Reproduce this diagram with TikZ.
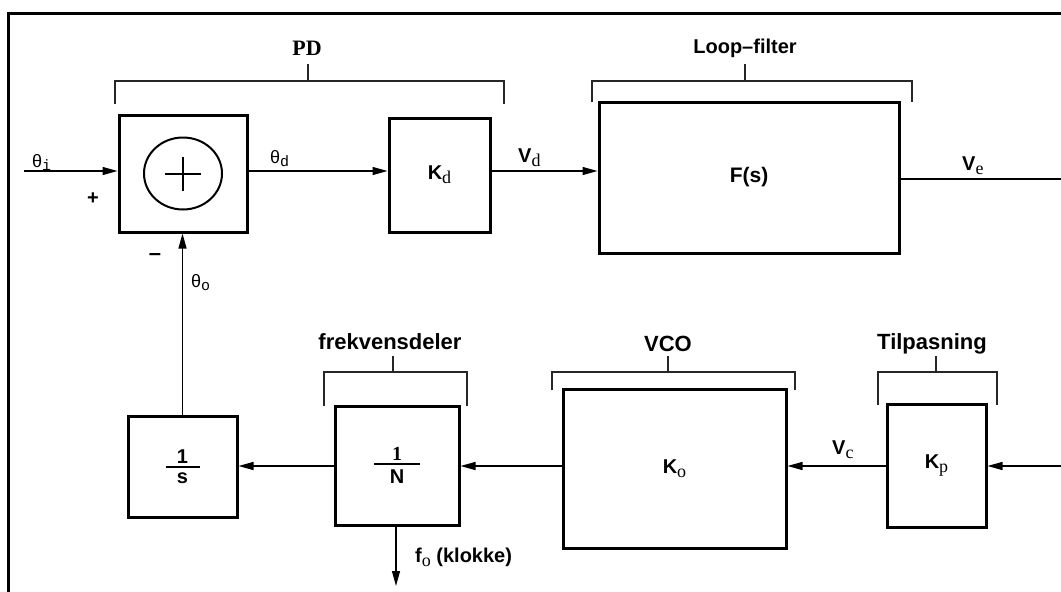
\documentclass[tikz,border=0pt]{standalone}
\usepackage{fontspec}
\setmainfont{Liberation Sans}
\newfontfamily\serif{Liberation Serif}
\newfontfamily\mono{Liberation Mono}
\usetikzlibrary{arrows.meta}
\newcommand\fsz[1]{\fontsize{#1}{#1}\selectfont}
\newcommand\subs[2][-4pt]{\raisebox{#1}{\serif\mdseries\fsz{18}#2}}
\newcommand\msub[1]{\raisebox{-3pt}{\mono\mdseries\fsz{15}#1}}
\newcommand\fracbox[3]{\vbox{\hbox to #1{\hss #2\hss}\kern3pt\hrule height 1.5pt\kern5pt\hbox to #1{\hss #3\hss}}}
\begin{document}
\begin{tikzpicture}[x=1pt,y=-1pt,
  blk/.style={draw, line width=3pt, inner sep=0pt, font=\fsz{20}\bfseries},
  con/.style={line width=1.3pt},
  arr/.style={con, -{Triangle[length=15pt,width=8pt]}},
  brk/.style={line width=1.2pt, black!85},
  ttl/.style={font=\fsz{22}\bfseries},
  lbl/.style={font=\fsz{20}\bfseries, inner sep=0pt}]
\useasboundingbox (0,0) rectangle (1061,592);
% frame
\draw[line width=3pt] (1061,13) -- (8,13) -- (8,594);

% blocks
\node[blk, minimum width=128pt, minimum height=117pt] (sum) at (183,173.5) {};
\draw[line width=2pt] (sum.center) ellipse [x radius=39, y radius=36];
\draw[line width=2pt] ([xshift=-18pt]sum.center) -- ([xshift=18pt]sum.center);
\draw[line width=2pt] ([yshift=-17pt]sum.center) -- ([yshift=17pt]sum.center);
\node[blk, minimum width=101pt, minimum height=114pt] (kd) at (439.5,175) {K\subs{d}};
\node[blk, minimum width=300pt, minimum height=151pt, font=\fsz{21}\bfseries] (fs) at (749,177.5) {F(s)};
\node[blk, minimum width=109pt, minimum height=101pt, font=\fsz{20}\bfseries] (inv) at (182.5,466.5) {\fracbox{34pt}{1}{s}};
\node[blk, minimum width=124pt, minimum height=119pt, font=\fsz{20}\bfseries] (div) at (397,465.5) {\fracbox{46pt}{{\serif 1}}{N}};
\node[blk, minimum width=223pt, minimum height=159pt] (vco) at (674.5,468.5) {K\subs{o}};
\node[blk, minimum width=99pt, minimum height=123pt] (kp) at (936.5,465.5) {K\subs{p}};

% free ends
\coordinate (thi) at (24,171);
\coordinate (ve) at (1061,179);
\coordinate (kin) at (1061,466);
\coordinate (fo) at (396,586);

% connectors
\draw[arr] (thi) -- (thi -| sum.west);
\draw[arr] (sum.east |- thi) -- (kd.west |- thi);
\draw[arr] (kd.east |- thi) -- (fs.west |- thi);
\draw[con] (fs.east |- ve) -- (ve);
\draw[arr] (inv.north) -- (inv.north |- sum.south);
\draw[arr] (kin) -- (kin -| kp.east);
\draw[arr] (kp.west |- kin) -- (vco.east |- kin);
\draw[arr] (vco.west |- kin) -- (div.east |- kin);
\draw[arr] (div.west |- kin) -- (inv.east |- kin);
\draw[arr] (fo |- div.south) -- (fo);

% signal labels
\node[anchor=west, inner sep=0pt, font=\fsz{18}] (lthi) at (32,162) {θ\msub{i}};
\node[lbl] (lplus) at (93,199) {+};
\node[lbl] (lminus) at (155,257) {\fsz{22}–};
\node[anchor=west, inner sep=0pt, font=\fsz{18}] (ltho) at (191,283) {θ\msub{o}};
\node[anchor=west, inner sep=0pt, font=\fsz{18}] (lthd) at (270,159) {θ\msub{d}};
\node[lbl, anchor=west] (lvd) at (518,158) {V\subs{d}};
\node[lbl, anchor=west] (lve) at (962,166) {V\subs{e}};
\node[lbl, anchor=west] (lvc) at (832,450) {V\subs{c}};
\node[lbl, anchor=west] (lfo) at (415,557) {f\subs{o} (klokke)};

% brackets and titles
\draw[brk] (115,104) -- (115,81) -- (504,81) -- (504,104);
\draw[brk] (308,81) -- (308,64);
\node[font=\serif\bfseries\fsz{22}] (tpd) at (307,48) {PD};
\draw[brk] (592,102) -- (592,81) -- (912,81) -- (912,102);
\draw[brk] (745,81) -- (745,64);
\node[font=\fsz{20}\bfseries] (tlf) at (745,48) {Loop–filter};
\draw[brk] (324,406) -- (324,372) -- (467,372) -- (467,406);
\draw[brk] (393,372) -- (393,356);
\node[ttl] (tfd) at (390,342) {frekvensdeler};
\draw[brk] (552,390) -- (552,372) -- (795,372) -- (795,390);
\draw[brk] (668,372) -- (668,356);
\node[ttl] (tvco) at (668,344) {VCO};
\draw[brk] (878,405) -- (878,372) -- (997,372) -- (997,405);
\draw[brk] (936,372) -- (936,356);
\node[ttl] (ttp) at (932,344) {Tilpasning};
\end{tikzpicture}
\end{document}
